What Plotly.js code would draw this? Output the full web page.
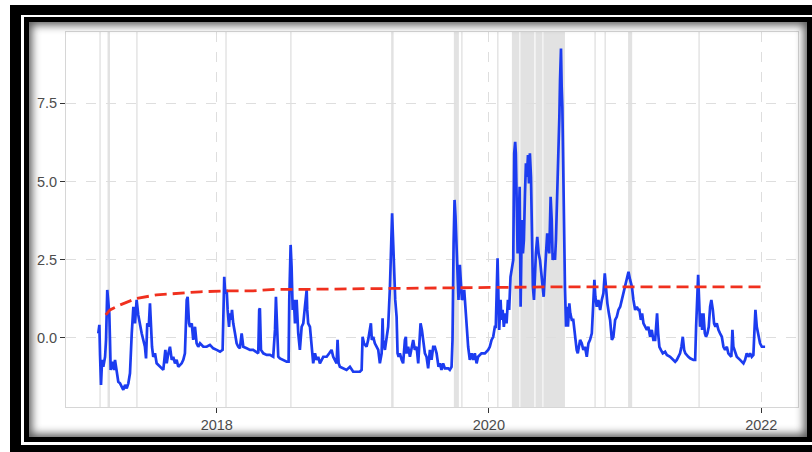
<!DOCTYPE html>
<html>
<head>
<meta charset="utf-8">
<script src="https://cdn.plot.ly/plotly-3.0.1.min.js"></script>
<style>
  html, body { margin: 0; padding: 0; background: #ffffff; }
  body { width: 812px; height: 452px; position: relative; overflow: hidden; }
  #chart { position: absolute; left: 0; top: 0; width: 812px; height: 452px; }
  .blk { position: absolute; background: #000; pointer-events: none; z-index: 5; }
  #shadow { position: absolute; left: 29px; top: 22px; width: 778px; height: 415px;
            box-shadow: inset 0 0 9px 3px rgba(0,0,0,0.65); pointer-events: none; z-index: 4; }
</style>
</head>
<body>
<div id="chart"></div>
<div id="shadow"></div>
<div class="blk" style="left:10px;top:5px;width:11px;height:447px;"></div>
<div class="blk" style="left:10px;top:5px;width:802px;height:10px;"></div>
<div class="blk" style="left:10px;top:445px;width:802px;height:7px;"></div>
<div class="blk" style="left:24px;top:17px;width:5px;height:425px;"></div>
<div class="blk" style="left:24px;top:17px;width:788px;height:5px;"></div>
<div class="blk" style="left:807px;top:17px;width:5px;height:425px;"></div>
<div class="blk" style="left:24px;top:437px;width:788px;height:5px;"></div>
<script>
// ---- data (decimal years) ----
const tBlue = [
2017.129,2017.137,2017.142,2017.149,2017.157,2017.166,2017.179,2017.186,2017.195,2017.203,
2017.210,2017.215,2017.220,2017.232,2017.245,2017.252,2017.265,2017.276,2017.289,2017.301,
2017.313,2017.326,2017.338,2017.350,2017.362,2017.375,2017.387,2017.399,2017.411,2017.423,
2017.436,2017.448,2017.472,2017.480,2017.489,2017.500,2017.509,2017.517,2017.524,2017.533,
2017.546,2017.558,2017.583,2017.607,2017.622,2017.632,2017.644,2017.656,2017.669,2017.680,
2017.693,2017.705,2017.717,2017.742,2017.754,2017.766,2017.779,2017.786,2017.796,2017.803,
2017.816,2017.827,2017.840,2017.852,2017.864,2017.877,2017.901,2017.926,2017.950,2017.974,
2017.999,2018.024,2018.043,2018.048,2018.055,2018.062,2018.073,2018.080,2018.090,2018.097,
2018.104,2018.112,2018.121,2018.134,2018.146,2018.158,2018.170,2018.183,2018.190,2018.195,
2018.220,2018.244,2018.268,2018.293,2018.305,2018.312,2018.317,2018.325,2018.342,2018.367,
2018.391,2018.415,2018.428,2018.435,2018.445,2018.452,2018.464,2018.489,2018.514,2018.528,
2018.533,2018.543,2018.550,2018.558,2018.567,2018.575,2018.587,2018.599,2018.611,
2018.624,2018.636,2018.648,2018.661,2018.665,2018.672,2018.685,2018.692,2018.700,2018.709,
2018.722,2018.734,2018.746,2018.758,2018.783,2018.808,2018.827,2018.844,2018.856,2018.869,
2018.881,2018.888,2018.896,2018.905,2018.929,2018.954,2018.979,2019.003,2019.028,2019.052,
2019.065,2019.072,2019.082,2019.101,2019.113,2019.126,2019.133,2019.140,2019.150,2019.162,
2019.175,2019.187,2019.199,2019.212,2019.219,2019.223,2019.236,2019.248,2019.260,2019.273,
2019.280,2019.289,2019.297,2019.304,2019.312,2019.322,2019.329,2019.337,2019.346,2019.359,
2019.370,2019.383,2019.390,2019.395,2019.407,2019.420,2019.444,2019.456,2019.469,2019.481,
2019.488,2019.498,2019.508,2019.517,2019.530,2019.542,2019.554,2019.567,2019.579,2019.591,
2019.603,2019.616,2019.630,2019.640,2019.652,2019.664,2019.677,2019.701,2019.713,2019.726,
2019.733,2019.741,2019.748,2019.755,2019.763,2019.770,2019.777,2019.787,2019.794,2019.802,
2019.811,2019.819,2019.831,2019.836,2019.848,2019.860,2019.873,2019.885,2019.897,2019.910,
2019.921,2019.946,2019.971,2019.995,2020.007,2020.020,2020.032,2020.044,
2020.051,2020.064,2020.071,2020.076,2020.086,2020.093,2020.101,2020.110,2020.120,2020.130,
2020.140,2020.149,2020.159,2020.169,2020.179,2020.186,2020.193,2020.198,2020.204,2020.211,
2020.218,2020.226,2020.233,2020.237,2020.242,2020.250,2020.257,2020.265,2020.272,2020.279,
2020.287,2020.294,2020.301,2020.309,2020.316,2020.323,2020.331,2020.338,2020.345,2020.355,
2020.365,2020.375,2020.384,2020.395,2020.402,2020.411,2020.419,2020.428,2020.436,2020.443,
2020.453,2020.461,2020.468,2020.478,2020.485,2020.492,2020.502,2020.509,2020.517,2020.522,
2020.529,2020.534,2020.539,2020.544,2020.551,2020.558,2020.566,2020.573,2020.580,2020.590,
2020.597,2020.608,2020.619,2020.632,2020.644,2020.652,2020.661,2020.669,2020.681,2020.693,
2020.705,2020.718,2020.730,2020.742,2020.755,2020.766,2020.774,2020.781,2020.791,2020.803,
2020.816,2020.828,2020.840,2020.850,2020.860,2020.869,2020.880,2020.889,2020.902,2020.913,
2020.926,2020.938,2020.950,2020.963,2020.975,2020.987,2020.999,2021.012,2021.024,2021.036,
2021.049,2021.060,2021.073,2021.085,2021.097,
2021.104,2021.115,2021.124,2021.134,2021.159,2021.170,2021.183,2021.195,2021.207,2021.220,
2021.227,2021.234,2021.242,2021.251,2021.262,2021.276,2021.293,2021.306,2021.330,2021.354,
2021.367,2021.379,2021.391,2021.403,2021.413,2021.423,2021.433,2021.442,2021.464,2021.477,
2021.501,2021.514,2021.521,2021.528,2021.536,2021.543,2021.550,2021.558,2021.565,2021.575,
2021.585,2021.594,2021.604,2021.614,2021.624,2021.633,2021.644,2021.653,2021.663,2021.673,
2021.685,2021.697,2021.710,2021.722,2021.734,2021.747,2021.758,2021.780,2021.788,2021.795,
2021.808,2021.820,2021.844,2021.869,2021.881,2021.893,2021.905,2021.918,2021.930,2021.942,
2021.949,2021.957,2021.967,2021.979,2021.991,2022.004,2022.028
];
const vBlue = [
0.14,0.41,-0.55,-1.51,-0.71,-0.93,-0.61,-0.07,1.53,1.21,
0.78,-0.07,-1.03,-0.77,-1.03,-0.71,-1.14,-1.41,-1.46,-1.57,
-1.67,-1.51,-1.62,-1.46,-1.14,0.14,0.99,0.46,1.21,0.73,
0.35,0.14,-0.29,-0.66,0.46,0.35,1.10,0.35,-0.29,-0.61,
-0.50,-0.82,-0.93,-1.03,-0.39,-0.82,-0.50,-0.29,-0.71,-0.61,
-0.82,-0.71,-0.93,-0.82,-0.71,-0.50,1.21,1.31,0.46,0.35,
0.46,-0.07,0.35,-0.18,-0.29,-0.18,-0.29,-0.29,-0.23,-0.34,
-0.39,-0.45,-0.39,1.21,1.95,1.42,1.53,0.89,0.35,0.78,
0.57,0.89,0.46,0.14,-0.18,-0.29,-0.34,0.14,-0.07,-0.29,
-0.34,-0.39,-0.39,-0.45,-0.50,0.89,0.94,-0.39,-0.50,-0.55,
-0.55,-0.61,0.25,1.31,0.14,-0.61,-0.66,-0.71,-0.77,-0.77,
1.21,2.97,2.27,0.89,1.21,0.46,1.21,0.14,-0.39,
0.35,0.46,0.99,1.53,0.89,0.46,0.35,-0.07,-0.61,-0.82,
-0.50,-0.71,-0.61,-0.82,-0.61,-0.61,-0.50,-0.39,-0.61,-0.71,
-0.82,-0.07,-0.82,-0.93,-0.98,-1.03,-0.93,-1.09,-1.09,-1.09,
-1.03,0.03,-0.18,-0.29,-0.07,0.35,0.46,-0.07,0.03,-0.18,
-0.29,-0.39,-0.82,-0.50,0.62,-0.07,-0.39,-0.07,0.35,1.63,
2.49,3.98,3.02,1.74,1.21,0.67,-0.50,-0.61,-0.50,-0.71,
-0.82,-0.07,0.03,-0.50,-0.29,-0.61,-0.07,-0.39,-0.29,-0.82,
-0.29,0.46,0.25,-0.07,-0.50,-0.61,-0.98,-0.39,-0.71,-0.29,
-0.29,-0.50,-0.93,-0.82,-1.03,-0.82,-0.98,-0.98,-1.03,-0.93,
-0.07,3.02,4.41,3.87,2.91,1.85,1.21,2.33,1.85,1.21,
1.31,1.53,0.78,0.35,-0.29,-0.71,-0.50,-0.71,-0.50,-0.82,
-0.61,-0.50,-0.50,-0.39,-0.29,-0.07,0.03,0.35,
0.35,2.54,1.10,0.25,1.21,0.57,0.89,0.35,0.78,0.46,
1.21,0.89,1.95,2.17,2.49,5.90,6.27,5.90,4.19,2.70,
3.55,4.83,0.99,2.70,3.77,2.70,3.13,4.62,5.58,5.15,
5.85,4.94,5.90,5.15,2.70,1.63,1.21,2.06,2.70,3.23,
2.70,2.49,2.06,1.63,1.31,2.06,2.70,3.34,2.91,2.70,
4.51,3.77,2.49,2.70,2.49,3.13,4.73,5.69,7.07,8.25,
9.26,8.03,7.39,5.90,2.70,1.63,0.35,0.99,0.35,1.10,
0.78,0.57,0.57,0.03,-0.39,-0.50,-0.29,-0.07,-0.18,-0.39,
-0.29,-0.61,-0.18,-0.07,0.14,0.99,1.85,1.31,0.99,1.21,
0.89,1.21,1.42,2.06,1.42,1.10,0.78,0.57,-0.07,0.03,
0.57,0.67,0.89,0.99,1.21,1.42,1.63,1.85,2.11,1.85,
1.63,1.21,0.89,0.99,0.89,
0.89,0.57,0.78,0.46,0.25,0.35,0.03,0.25,-0.07,-0.07,
0.35,0.78,0.14,-0.29,-0.39,-0.50,-0.45,-0.55,-0.61,-0.71,
-0.77,-0.71,-0.61,-0.50,-0.29,0.03,-0.39,-0.50,-0.61,-0.66,
-0.71,-0.71,0.35,1.21,2.01,1.21,0.35,0.78,0.25,0.78,
0.14,0.03,0.14,0.35,0.99,1.21,0.89,0.46,0.35,0.46,
0.25,0.14,0.03,-0.29,-0.39,-0.29,-0.50,-0.61,0.25,-0.29,
-0.50,-0.61,-0.71,-0.82,-0.71,-0.50,-0.61,-0.50,-0.61,-0.55,
0.14,0.89,0.35,0.03,-0.18,-0.29,-0.29
];
const tRed = [2017.184,2017.215,2017.289,2017.411,2017.558,2017.705,2017.877,2018.073,2018.268,2018.435,2018.685,2019.346,2020.057,2020.522,2022.028];
const vRed = [0.73,0.89,1.05,1.26,1.37,1.42,1.47,1.50,1.50,1.55,1.55,1.58,1.61,1.63,1.63];

// event periods (decimal years); equal start/end = single-day event
const evStart = [2017.142,2017.197,2017.413,2018.068,2018.545,2019.282,2019.743,2019.802,2020.066,2020.169,2020.231,2020.342,2020.400,2020.779,2020.853,2021.021,2021.543];
const evEnd   = [2017.142,2017.215,2017.413,2018.068,2018.545,2019.300,2019.780,2019.802,2020.066,2020.224,2020.334,2020.393,2020.558,2020.779,2020.853,2021.051,2021.543];

const yTicks = [0, 2.5, 5.0, 7.5];
const xTickYears = [2018, 2020, 2022];

function toDate(t) {
  const y = Math.floor(t);
  const a = Date.UTC(y, 0, 1), b = Date.UTC(y + 1, 0, 1);
  return new Date(a + (t - y) * (b - a)).toISOString().replace('T', ' ').slice(0, 19);
}

const shapes = [];
for (let i = 0; i < evStart.length; i++) {
  if (evStart[i] === evEnd[i]) {
    shapes.push({type: 'line', xref: 'x', yref: 'paper', x0: toDate(evStart[i]), x1: toDate(evEnd[i]),
      y0: 0, y1: 1, line: {color: '#e2e2e2', width: 1.4}, layer: 'below'});
  } else {
    shapes.push({type: 'rect', xref: 'x', yref: 'paper', x0: toDate(evStart[i]), x1: toDate(evEnd[i]),
      y0: 0, y1: 1, fillcolor: '#e2e2e2', line: {width: 0}, layer: 'below'});
  }
}

const traces = [
  {x: tBlue.map(toDate), y: vBlue, type: 'scatter', mode: 'lines',
   line: {color: '#1c3cf0', width: 2.7}, hoverinfo: 'skip'},
  {x: tRed.map(toDate), y: vRed, type: 'scatter', mode: 'lines',
   line: {color: '#f0301e', width: 2.8, dash: '12px,6px'}, hoverinfo: 'skip'}
];

const fnt = {family: 'Liberation Sans, Arial, sans-serif', size: 14.5, color: '#4d4d4d'};

const layout = {
  width: 812, height: 452,
  margin: {l: 66, r: 14, t: 32, b: 45},
  paper_bgcolor: 'rgba(0,0,0,0)', plot_bgcolor: '#ffffff',
  showlegend: false,
  xaxis: {
    type: 'date', range: [toDate(2016.892), toDate(2022.270)],
    tickvals: xTickYears.map(y => y + '-01-01'), ticktext: xTickYears.map(String),
    showgrid: true, gridcolor: '#dedede', gridwidth: 1.3, griddash: '10px,10px',
    zeroline: false, showline: true, mirror: true, linecolor: '#d6d6d6', linewidth: 1,
    ticks: 'outside', ticklen: 5, tickwidth: 1.3, tickcolor: '#333333', tickfont: fnt
  },
  yaxis: {
    range: [-2.218, 9.786], tickvals: yTicks, ticktext: yTicks.map(v => v.toFixed(1)),
    showgrid: true, gridcolor: '#dedede', gridwidth: 1.3, griddash: '10px,10px',
    zeroline: false, showline: true, mirror: true, linecolor: '#d6d6d6', linewidth: 1,
    ticks: 'outside', ticklen: 5, tickwidth: 1.3, tickcolor: '#333333', tickfont: fnt
  },
  shapes: shapes
};

Plotly.newPlot('chart', traces, layout, {displayModeBar: false, staticPlot: true});
</script>
</body>
</html>
